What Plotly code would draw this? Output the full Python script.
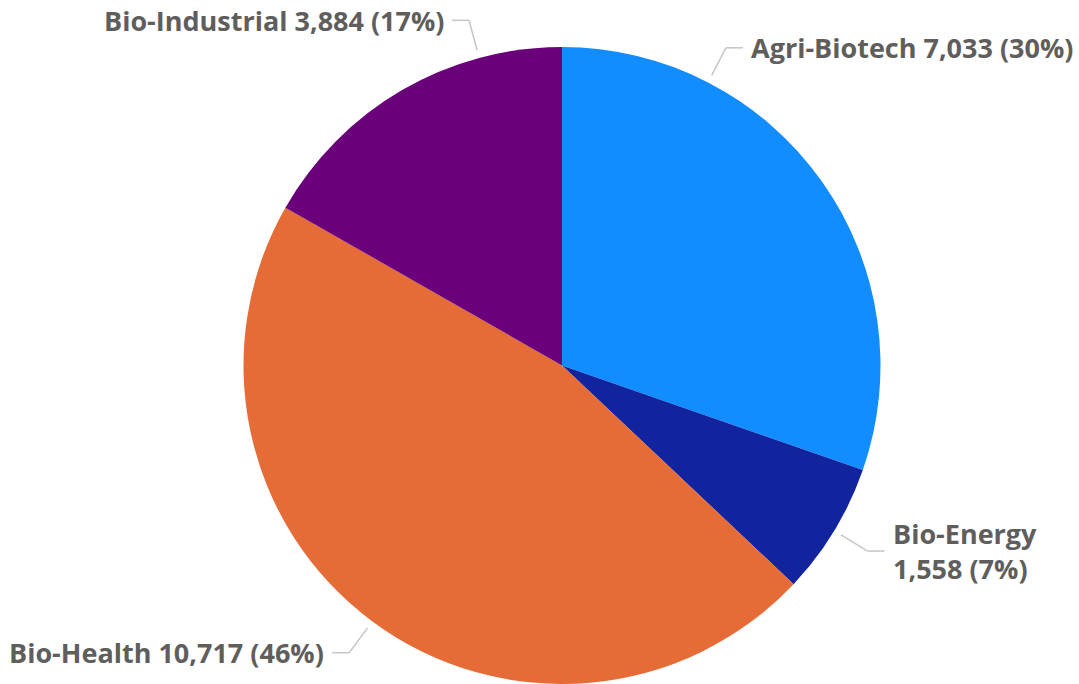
import math
import plotly.graph_objects as go

# Segment data
categories = ["Agri-Biotech", "Bio-Energy", "Bio-Health", "Bio-Industrial"]
values = [7033, 1558, 10717, 3884]
colors = ["#118DFF", "#12239E", "#E66C37", "#6B007B"]
# where along each slice's arc the leader line leaves (0 = slice start, 1 = slice end)
label_anchor = [0.25, 0.5, 0.5, 0.75]

W, H = 1079, 684
FONT = "Open Sans, Lato, sans-serif"
FONT_SIZE = 27
TEXT_COLOR = "#605E5C"
LINE_COLOR = "#C8C6C4"

# pie geometry in pixels (top edge of the pie and horizontal centre)
pie_top = 47
pie_cx = 562
R = (H - pie_top) / 2.0
cx, cy = pie_cx, pie_top + R

dom_x = [(cx - R) / W, (cx + R) / W]
dom_y = [0.0, (H - pie_top) / H]


def to_paper(px, py):
    return px / W, 1 - py / H


fig = go.Figure(
    go.Pie(
        labels=categories,
        values=values,
        marker=dict(colors=colors, line=dict(width=0)),
        sort=False,
        direction="clockwise",
        rotation=0,
        textinfo="none",
        hoverinfo="label+value+percent",
        domain=dict(x=dom_x, y=dom_y),
        showlegend=False,
    )
)

total = sum(values)
shapes, annotations = [], []
cum = 0.0
for name, v, frac in zip(categories, values, label_anchor):
    start = cum / total * 360
    span = v / total * 360
    cum += v
    ang = math.radians(start + frac * span)
    sx, sy = math.sin(ang), -math.cos(ang)
    p0 = (cx + (R + 8) * sx, cy + (R + 8) * sy)
    p1 = (cx + (R + 39) * sx, cy + (R + 39) * sy)
    side = 1 if sx >= 0 else -1
    p2 = (p1[0] + side * 17, p1[1])

    for a, b in ((p0, p1), (p1, p2)):
        x0, y0 = to_paper(*a)
        x1, y1 = to_paper(*b)
        shapes.append(dict(type="line", xref="paper", yref="paper",
                           x0=x0, y0=y0, x1=x1, y1=y1,
                           line=dict(color=LINE_COLOR, width=1.5)))

    pct = round(v / total * 100)
    text = f"{name} {v:,} ({pct}%)"
    tx = p2[0] + side * 6
    avail = (W - tx) if side > 0 else tx
    if len(text) * 0.5 * FONT_SIZE > avail:
        text = f"{name}<br>{v:,} ({pct}%)"
    ax, ay = to_paper(tx, p2[1])
    annotations.append(dict(
        x=ax, y=ay, xref="paper", yref="paper", text=text, showarrow=False,
        xanchor="left" if side > 0 else "right", yanchor="middle",
        align="left" if side > 0 else "right",
        font=dict(family=FONT, size=FONT_SIZE, color=TEXT_COLOR, weight="bold"),
    ))

fig.update_layout(
    width=W, height=H,
    margin=dict(l=0, r=0, t=0, b=0),
    paper_bgcolor="white", plot_bgcolor="white",
    shapes=shapes, annotations=annotations,
)

fig.write_html("out.html")
